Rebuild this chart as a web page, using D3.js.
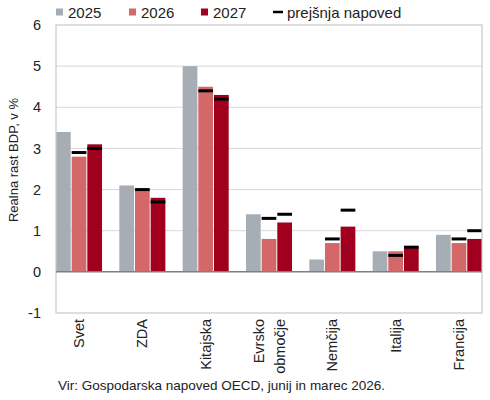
<!DOCTYPE html>
<html><head><meta charset="utf-8">
<script src="https://cdn.jsdelivr.net/npm/d3@7"></script>
<style>body{margin:0;background:#fff}svg{display:block;font-family:"Liberation Sans",Arial,sans-serif}</style>
</head><body><svg id="c" width="490" height="400"></svg>
<script>
const categories = [["Svet"],["ZDA"],["Kitajska"],["Evrsko","območje"],["Nemčija"],["Italija"],["Francija"]];
const years = ["2025","2026","2027"];
const v2025 = [3.4, 2.1, 5.0, 1.4, 0.3, 0.5, 0.9];
const v2026 = [2.8, 2.0, 4.5, 0.8, 0.7, 0.5, 0.7];
const v2027 = [3.1, 1.8, 4.3, 1.2, 1.1, 0.6, 0.8];
const prev2026 = [2.9, 2.0, 4.4, 1.3, 0.8, 0.4, 0.8];
const prev2027 = [3.0, 1.7, 4.2, 1.4, 1.5, 0.6, 1.0];
const yTicks = [-1, 0, 1, 2, 3, 4, 5, 6];
const colors = ["#a7adb4", "#d46868", "#a0001e"];
const yTitle = "Realna rast BDP, v %";
const legendPrev = "prejšnja napoved";
const source = "Vir: Gospodarska napoved OECD, junij in marec 2026.";

const series = [v2025, v2026, v2027];
const prevSeries = [null, prev2026, prev2027];

const svg = d3.select("#c");
const L = 56, R = 482, T = 25, B = 313;
const y = d3.scaleLinear().domain([-1, 6]).range([B, T]);
const x0 = d3.scaleBand().domain(d3.range(categories.length)).range([L, R]).paddingInner(0.273).paddingOuter(0);
const x1 = d3.scaleBand().domain(d3.range(years.length)).range([0, x0.bandwidth()]).paddingInner(0.06);

// grid
svg.append("g").selectAll("line").data(yTicks.filter(t => t !== 0 && t !== -1 && t !== 6)).join("line")
  .attr("x1", L).attr("x2", R).attr("y1", d => y(d)).attr("y2", d => y(d))
  .attr("stroke", "#d9d9d9").attr("stroke-width", 1);

// bars
categories.forEach((c, i) => {
  series.forEach((s, j) => {
    const v = s[i];
    svg.append("rect")
      .attr("x", x0(i) + x1(j)).attr("width", x1.bandwidth())
      .attr("y", y(Math.max(0, v))).attr("height", Math.abs(y(v) - y(0)))
      .attr("fill", colors[j]);
  });
});
// previous forecast markers
categories.forEach((c, i) => {
  prevSeries.forEach((s, j) => {
    if (!s) return;
    svg.append("line")
      .attr("x1", x0(i) + x1(j)).attr("x2", x0(i) + x1(j) + x1.bandwidth())
      .attr("y1", y(s[i])).attr("y2", y(s[i]))
      .attr("stroke", "#000").attr("stroke-width", 3);
  });
});

// plot border
svg.append("rect").attr("x", L).attr("y", T).attr("width", R - L).attr("height", B - T)
  .attr("fill", "none").attr("stroke", "#c8c8c8").attr("stroke-width", 1.2);
// zero line
svg.append("line").attr("x1", L).attr("x2", R).attr("y1", y(0)).attr("y2", y(0))
  .attr("stroke", "#7f7f7f").attr("stroke-width", 1.5);

// y axis labels
const yAxis = d3.axisLeft(y).tickValues(yTicks).tickSize(0).tickPadding(15).tickFormat(d => String(d));
const ga = svg.append("g").attr("transform", `translate(${L},0)`).call(yAxis);
ga.select(".domain").remove();
ga.selectAll("text").attr("font-size", 14.5).attr("fill", "#222").style("font-family", "'Liberation Sans',Arial,sans-serif");

svg.append("text").attr("transform", `translate(18,160) rotate(-90)`)
  .attr("text-anchor", "middle").attr("font-size", 13).attr("fill", "#222").text(yTitle);

// x labels
categories.forEach((lines, i) => {
  const cx = x0(i) + x0.bandwidth() / 2;
  const n = lines.length;
  lines.forEach((t, k) => {
    const off = (k - (n - 1) / 2) * 21;
    svg.append("text")
      .attr("transform", `translate(${cx + off + 5},${B + 6}) rotate(-90)`)
      .attr("text-anchor", "end").attr("font-size", 14.5).attr("fill", "#222").text(t);
  });
});

// legend
const legX = [56, 129, 201];
years.forEach((yr, j) => {
  svg.append("rect").attr("x", legX[j]).attr("y", 8.5).attr("width", 7).attr("height", 7).attr("fill", colors[j]);
  svg.append("text").attr("x", legX[j] + 12).attr("y", 17.5).attr("font-size", 15).attr("fill", "#222").text(yr);
});
svg.append("line").attr("x1", 273).attr("x2", 283).attr("y1", 12).attr("y2", 12).attr("stroke", "#000").attr("stroke-width", 2.5);
svg.append("text").attr("x", 287).attr("y", 17.5).attr("font-size", 15).attr("fill", "#222").text(legendPrev);

svg.append("text").attr("x", 58).attr("y", 390).attr("font-size", 13.5).attr("fill", "#222").text(source);
</script></body></html>
